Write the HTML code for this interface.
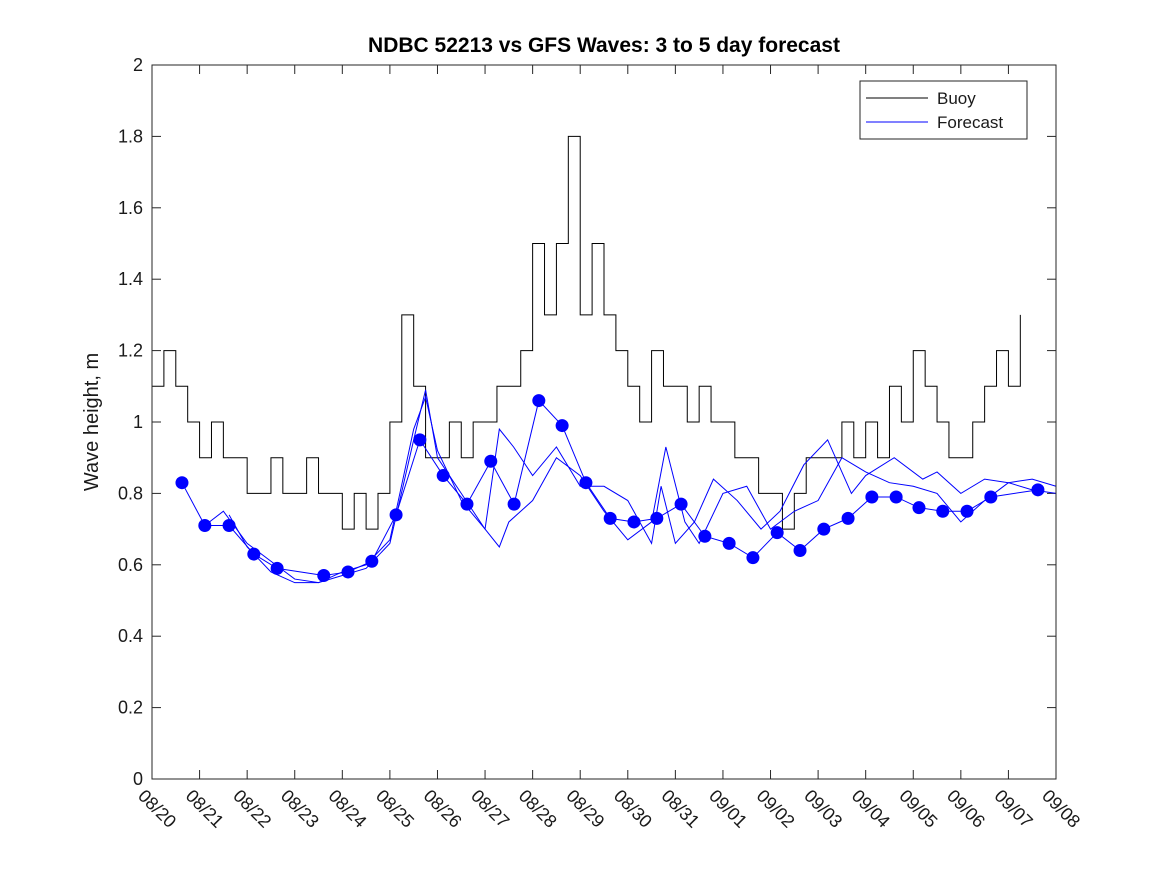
<!DOCTYPE html>
<html><head><meta charset="utf-8"><style>
body{margin:0;background:#fff;}
svg text{font-family:"Liberation Sans","DejaVu Sans",sans-serif;fill:#1a1a1a;}
</style></head><body>
<svg id="chart" width="1167" height="875" xmlns="http://www.w3.org/2000/svg">
<rect width="1167" height="875" fill="#fff"/>
<text x="604" y="52" text-anchor="middle" font-size="21" font-weight="bold" style="fill:#000">NDBC 52213 vs GFS Waves: 3 to 5 day forecast</text>
<text transform="translate(98,422) rotate(-90)" text-anchor="middle" font-size="20">Wave height, m</text>
<g id="axes"></g>
<g id="series"></g>
<rect x="152" y="65" width="904" height="714" fill="none" stroke="#262626" stroke-width="1"/>
<g>
<rect x="860" y="81" width="167" height="58" fill="#fff" stroke="#262626"/>
<line x1="866" y1="98" x2="928" y2="98" stroke="#000"/>
<text x="937" y="104" font-size="17">Buoy</text>
<line x1="866" y1="122" x2="928" y2="122" stroke="#00f"/>
<text x="937" y="128" font-size="17">Forecast</text>
</g>
</svg>
<script>
const xTickLabels=["08/20","08/21","08/22","08/23","08/24","08/25","08/26","08/27","08/28","08/29","08/30","08/31","09/01","09/02","09/03","09/04","09/05","09/06","09/07","09/08"];
const yTicks=[0,0.2,0.4,0.6,0.8,1,1.2,1.4,1.6,1.8,2];
const buoyStep=0.25;
const buoyValues=[1.1,1.2,1.1,1.0,0.9,1.0,0.9,0.9,0.8,0.8,0.9,0.8,0.8,0.9,0.8,0.8,0.7,0.8,0.7,0.8,1.0,1.3,1.1,0.9,0.9,1.0,0.9,1.0,1.0,1.1,1.1,1.2,1.5,1.3,1.5,1.8,1.3,1.5,1.3,1.2,1.1,1.0,1.2,1.1,1.1,1.0,1.1,1.0,1.0,0.9,0.9,0.8,0.8,0.7,0.8,0.9,0.9,0.9,1.0,0.9,1.0,0.9,1.1,1.0,1.2,1.1,1.0,0.9,0.9,1.0,1.1,1.2,1.1,1.3];
const dotDays=[0.63,1.11,1.62,2.14,2.63,3.61,4.12,4.62,5.13,5.63,6.12,6.62,7.12,7.61,8.13,8.62,9.12,9.63,10.13,10.61,11.12,11.62,12.13,12.63,13.14,13.62,14.12,14.63,15.13,15.64,16.12,16.62,17.13,17.63,18.62];
const dotValues=[0.83,0.71,0.71,0.63,0.59,0.57,0.58,0.61,0.74,0.95,0.85,0.77,0.89,0.77,1.06,0.99,0.83,0.73,0.72,0.73,0.77,0.68,0.66,0.62,0.69,0.64,0.70,0.73,0.79,0.79,0.76,0.75,0.75,0.79,0.81];
const fcBDays=[1.11,1.5,2.0,2.5,3.0,3.5,4.0,4.5,5.0,5.5,5.75,6.0,6.5,7.0,7.3,7.5,8,8.5,9,9.5,10,10.5,10.8,11.2,11.5,12,12.5,13,13.5,14,14.5,15,15.5,16,16.5,17,17.5,18,18.5,19];
const fcBValues=[0.71,0.75,0.66,0.61,0.56,0.55,0.57,0.59,0.66,0.95,1.09,0.9,0.8,0.7,0.65,0.72,0.78,0.9,0.85,0.75,0.67,0.72,0.93,0.72,0.66,0.8,0.82,0.7,0.75,0.78,0.9,0.86,0.83,0.82,0.8,0.72,0.78,0.83,0.81,0.8];
const fcCDays=[1.62,2.0,2.5,3.0,3.5,4.0,4.5,5.0,5.5,5.75,6.0,6.5,7.0,7.3,7.6,8,8.5,9,9.5,10,10.5,10.7,11,11.4,11.8,12.3,12.8,13.2,13.7,14.2,14.7,15,15.6,16.2,16.5,17,17.5,18,18.5,19];
const fcCValues=[0.74,0.65,0.58,0.55,0.55,0.58,0.6,0.67,0.98,1.07,0.92,0.78,0.7,0.98,0.93,0.85,0.93,0.82,0.82,0.78,0.66,0.82,0.66,0.72,0.84,0.78,0.7,0.75,0.88,0.95,0.8,0.85,0.9,0.84,0.86,0.8,0.84,0.83,0.84,0.82];
const NS="http://www.w3.org/2000/svg";
const X0=152,X1=1056,Y0=779,Y1=65;
function xs(d){return X0+d*(X1-X0)/19;}
function ys(v){return Y0-v*(Y0-Y1)/2;}
const ax=document.getElementById('axes'),se=document.getElementById('series');
function mk(t,a,p){const e=document.createElementNS(NS,t);for(const k in a)e.setAttribute(k,a[k]);p.appendChild(e);return e;}
yTicks.forEach(v=>{
 const y=ys(v);
 const l=mk('line',{x1:X0,x2:X0+9,y1:y,y2:y,stroke:'#262626'},ax);
 
 
 mk('line',{x1:X1-9,x2:X1,y1:y,y2:y,stroke:'#262626'},ax);
 const t=mk('text',{x:X0-9,y:y+6,'text-anchor':'end','font-size':18},ax);
 t.textContent=String(v);
 
 
});
xTickLabels.forEach((s,i)=>{
 const x=xs(i);
 const l=mk('line',{x1:x,x2:x,y1:Y0,y2:Y0-9,stroke:'#262626'},ax);
 
 
 mk('line',{x1:x,x2:x,y1:Y1,y2:Y1+9,stroke:'#262626'},ax);
 const t=mk('text',{transform:`translate(${x-15},${Y0+18}) rotate(45)`,'font-size':18},ax);
 t.textContent=s;
 
 
});
let d='';
buoyValues.forEach((v,i)=>{const x=xs(i*buoyStep),y=ys(v);d+=(i?`H${x}V${y}`:`M${x},${y}`);});
const bp=mk('path',{d:d,fill:'none',stroke:'#000','stroke-width':1},se);


function line(days,vals,name){
 const p=mk('path',{d:days.map((dd,i)=>(i?'L':'M')+xs(dd)+','+ys(vals[i])).join(''),fill:'none',stroke:'#00f','stroke-width':1},se);
 
 
}
line(dotDays,dotValues,'forecast-line-a');
line(fcBDays,fcBValues,'forecast-line-b');
line(fcCDays,fcCValues,'forecast-line-c');
dotDays.forEach((dd,i)=>{
 const c=mk('circle',{cx:xs(dd),cy:ys(dotValues[i]),r:6.5,fill:'#00f'},se);
 
 
});
</script>
</body></html>
